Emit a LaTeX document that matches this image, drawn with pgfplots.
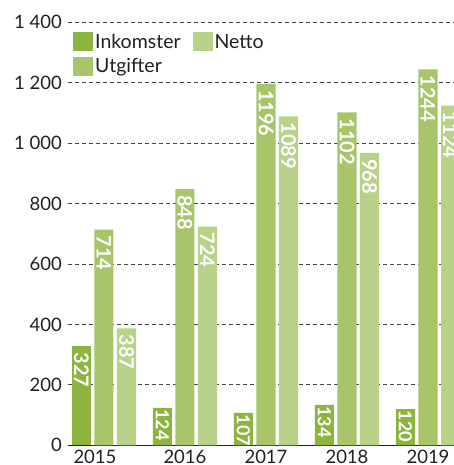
\documentclass[border=0pt]{standalone}
\usepackage{fontspec}
\setmainfont{Lato}
\usepackage{pgfplots}
\pgfplotsset{compat=1.18}
\definecolor{ink}{RGB}{141,180,62}
\definecolor{utg}{RGB}{168,197,106}
\definecolor{net}{RGB}{185,210,138}
\definecolor{txt}{RGB}{35,31,32}
\definecolor{gridc}{RGB}{70,70,70}
\begin{document}
\begin{tikzpicture}
\useasboundingbox (-68pt,-19.7pt) rectangle (386pt,445.3pt);
\clip (-68pt,-19.7pt) rectangle (386pt,445.3pt);
\begin{axis}[
  at={(0pt,0pt)}, anchor=south west,
  scale only axis, width=386pt, height=423pt,
  xmin=-0.444, xmax=4.321, ymin=0, ymax=1400,
  ybar, bar width=0.235,
  /pgf/number format/assume math mode=true,
  xtick={0,1,2,3,4},
  xticklabels={\hspace*{-18pt}\raisebox{-3pt}{2015},\raisebox{-3pt}{2016},2017,2018,2019},
  ytick={0,200,400,600,800,1000,1200,1400},
  major tick length=0pt,
  axis x line*=bottom, axis y line*=left,
  axis line style={-},
  x axis line style={draw=txt, line width=1.2pt},
  y axis line style={draw=none},
  ymajorgrids,
  major grid style={draw=gridc, line width=0.8pt, dash pattern=on 4pt off 3pt},
  yticklabel style={inner sep=0pt, xshift=-6pt, font=\fontsize{18.5}{20}\selectfont, text=txt,
    /pgf/number format/1000 sep={\ }},
  xticklabel style={inner sep=0pt, yshift=-4.7pt, font=\fontsize{18.5}{20}\selectfont, text=txt},
  nodes near coords={\pgfmathprintnumber[1000 sep={}]{\pgfplotspointmeta}},
  every node near coord/.append style={rotate=-90, anchor=west, inner xsep=6pt, inner ysep=0pt,
    text=white, font=\bfseries\fontsize{20}{20}\selectfont},
  legend columns=2, transpose legend,
  legend cell align=left,
  legend image code/.code={\fill[#1,draw=none] (0pt,-9.5pt) rectangle (20pt,9.5pt);},
  legend style={at={(axis description cs:0,1)}, anchor=north west, xshift=5pt, yshift=-10pt,
    draw=none, fill=none, inner sep=0pt, row sep=5.5pt,
    font=\fontsize{19.5}{22}\selectfont, text=txt,
    nodes={inner xsep=2pt, inner ysep=0pt},
    /tikz/every even column/.append style={column sep=10pt}},
]
\addplot[fill=ink, draw=none, bar shift=-0.278] coordinates {(0,327)};
\addlegendentry{Inkomster}
\addplot[forget plot, fill=ink, draw=none, bar shift=-0.278,
  every node near coord/.append style={inner xsep=1.5pt, font=\bfseries\fontsize{18}{18}\selectfont}]
  coordinates {(1,124) (2,107) (3,134) (4,120)};
\addplot[fill=utg, draw=none, bar shift=0] coordinates {(0,714) (1,848) (2,1196) (3,1102) (4,1244)};
\addlegendentry{Utgifter}
\addplot[fill=net, draw=none, bar shift=0.278] coordinates {(0,387) (1,724) (2,1089) (3,968) (4,1124)};
\addlegendentry{Netto}
\end{axis}
\end{tikzpicture}
\end{document}
